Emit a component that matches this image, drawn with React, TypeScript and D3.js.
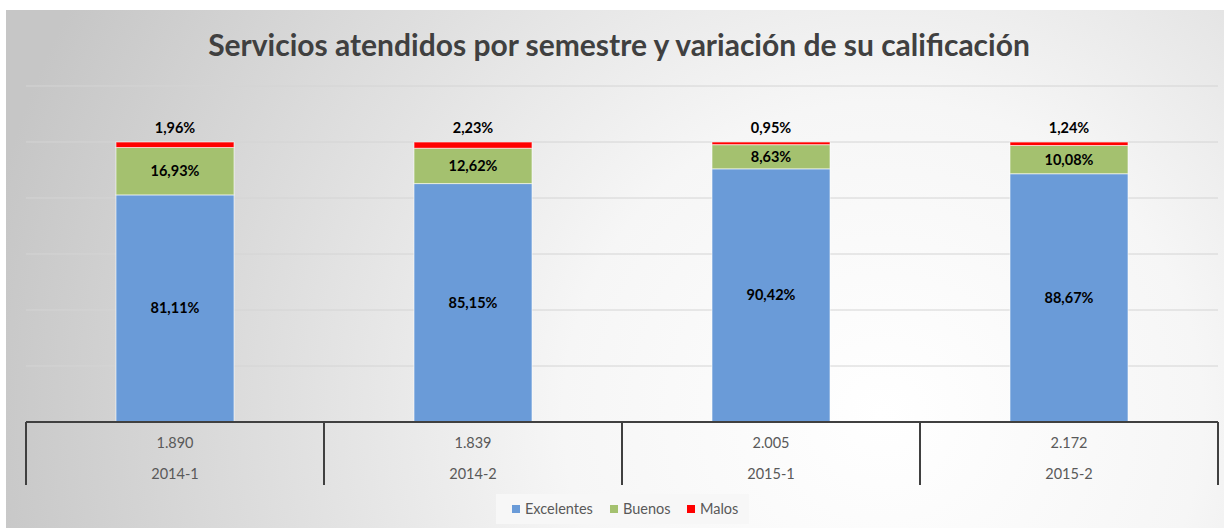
import React from "react";
import * as d3 from "d3";

const categories = ["2014-1", "2014-2", "2015-1", "2015-2"];
const totals = ["1.890", "1.839", "2.005", "2.172"];
const excelentes = [81.11, 85.15, 90.42, 88.67];
const buenos = [16.93, 12.62, 8.63, 10.08];
const malos = [1.96, 2.23, 0.95, 1.24];
const seriesNames = ["Excelentes", "Buenos", "Malos"];
const seriesColors = ["#6a9bd8", "#a4c16f", "#ff0000"];
const yTicks = [0, 20, 40, 60, 80, 100, 120];
const title = "Servicios atendidos por semestre y variación de su calificación";

const fmt = (v: number) => v.toFixed(2).replace(".", ",") + "%";

export default function App() {
  const W = 1224, H = 528;
  const left = 26, right = 1218, top = 86, bottom = 422;
  const x = d3.scaleBand<string>().domain(categories).range([left, right]).paddingInner(0).paddingOuter(0);
  const y = d3.scaleLinear().domain([0, 120]).range([bottom, top]);
  const barW = x.bandwidth() * 0.396;

  const rows = categories.map((c, i) => ({ cat: c, Excelentes: excelentes[i], Buenos: buenos[i], Malos: malos[i] }));
  const stack = d3.stack<any>().keys(seriesNames)(rows);

  const font = "Lato, 'Open Sans', sans-serif";

  return (
    <svg width={W} height={H} style={{ position: "absolute", left: 0, top: 0 }} fontFamily={font}>
      <defs>
        <radialGradient id="bg" cx="0.72" cy="0.78" r="0.75" gradientUnits="objectBoundingBox" gradientTransform="translate(0.72,0.78) scale(1,2.3) translate(-0.72,-0.78)">
          <stop offset="0" stopColor="#ffffff" />
          <stop offset="0.35" stopColor="#f6f6f6" />
          <stop offset="1" stopColor="#c6c6c6" />
        </radialGradient>
      </defs>
      <rect x={0} y={0} width={W} height={H} fill="#ffffff" />
      <rect x={6} y={10} width={W - 6} height={H - 10} fill="url(#bg)" />
      <text x={619} y={56} textAnchor="middle" fontSize={30} fontWeight="bold" fill="#404040">{title}</text>
      {yTicks.slice(1).map(t => (
        <line key={t} x1={left} x2={right} y1={y(t)} y2={y(t)} stroke="#d4d4d4" strokeWidth={1} />
      ))}
      {stack.map((s, si) => (
        <g key={s.key}>
          {s.map((d, i) => {
            const cx = (x(categories[i]) as number) + x.bandwidth() / 2;
            return (
              <rect key={i} x={cx - barW / 2} y={y(d[1])} width={barW} height={y(d[0]) - y(d[1])}
                fill={seriesColors[si]} stroke="#ffffff" strokeOpacity={0.6} strokeWidth={1} />
            );
          })}
        </g>
      ))}
      {stack.map((s, si) => (
        <g key={"l" + s.key}>
          {s.map((d, i) => {
            const cx = (x(categories[i]) as number) + x.bandwidth() / 2;
            const v = d[1] - d[0];
            const ly = si === 2 ? y(d[1]) - 9 : y((d[0] + d[1]) / 2) + 5;
            return (
              <text key={i} x={cx} y={ly} textAnchor="middle" fontSize={14.5} fontWeight="bold" fill="#000000">{fmt(v)}</text>
            );
          })}
        </g>
      ))}
      <line x1={left} x2={right} y1={bottom} y2={bottom} stroke="#404040" strokeWidth={2} />
      {[...categories.map(c => x(c) as number), right].map((sx, i) => (
        <line key={i} x1={sx} x2={sx} y1={bottom} y2={485} stroke="#404040" strokeWidth={2} />
      ))}
      {categories.map((c, i) => {
        const cx = (x(c) as number) + x.bandwidth() / 2;
        return (
          <g key={c}>
            <text x={cx} y={448} textAnchor="middle" fontSize={14.5} fill="#595959">{totals[i]}</text>
            <text x={cx} y={479} textAnchor="middle" fontSize={14.5} fill="#595959">{c}</text>
          </g>
        );
      })}
      <rect x={496} y={494} width={253} height={30} fill="#f7f7f7" />
      {seriesNames.map((n, i) => {
        const lx = [512, 610, 687][i];
        return (
          <g key={n}>
            <rect x={lx} y={505} width={8} height={8} fill={seriesColors[i]} />
            <text x={lx + 13} y={514} fontSize={14.5} fill="#595959">{n}</text>
          </g>
        );
      })}
    </svg>
  );
}
